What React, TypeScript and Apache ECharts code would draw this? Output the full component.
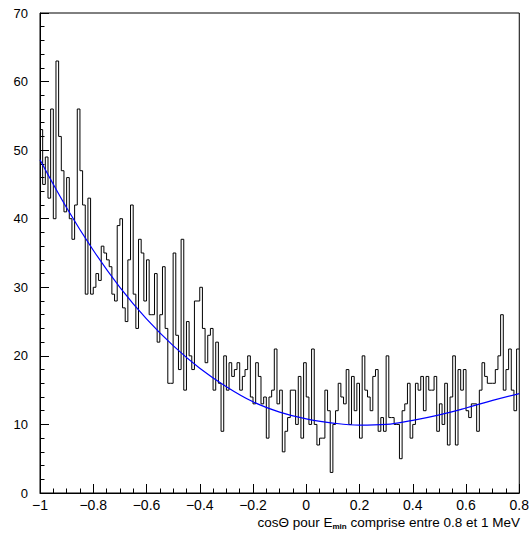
import React, { useEffect, useRef } from "react";
import * as echarts from "echarts";

// Histogram: 180 bins of width 0.01 from cosΘ = -1 to 0.8
const binStart = -1;
const binWidth = 0.01;
const counts = [
  53, 45, 49, 43, 56, 40, 63, 52, 47, 41,
  46, 40, 37, 42, 56, 47, 42, 29, 43, 29,
  30, 32, 31, 36, 35, 34, 33, 29, 28, 39,
  40, 27, 25, 34, 42, 29, 24, 37, 35, 28,
  34, 26, 26, 32, 22, 26, 33, 24, 16, 16,
  35, 23, 18, 37, 15, 25, 20, 18, 28, 28,
  30, 24, 19, 23, 24, 15, 22, 16, 9, 20,
  15, 19, 17, 18, 19, 15, 17, 18, 20, 14,
  13, 19, 17, 13, 14, 8, 14, 15, 21, 13,
  15, 6, 9, 11, 15, 15, 10, 17, 8, 19,
  14, 10, 21, 10, 7, 8, 8, 15, 12, 3,
  10, 12, 16, 14, 13, 18, 10, 17, 12, 16,
  8, 20, 15, 14, 12, 17, 18, 9, 11, 9,
  20, 11, 11, 10, 10, 5, 12, 13, 16, 8,
  10, 16, 15, 17, 12, 17, 15, 15, 17, 9,
  13, 10, 16, 7, 14, 20, 7, 18, 15, 18,
  12, 11, 13, 13, 9, 15, 19, 17, 16, 16,
  16, 18, 20, 26, 15, 18, 21, 15, 12, 21,
];

// Fit curve
const fitX = [-1, -0.9, -0.8, -0.7, -0.6, -0.5, -0.4, -0.3, -0.2, -0.1, 0, 0.1, 0.2, 0.3, 0.4, 0.5, 0.6, 0.7, 0.8];
const fitY = [48.6, 41.6, 35.4, 30.0, 25.4, 21.5, 18.2, 15.5, 13.3, 11.8, 10.8, 10.2, 9.9, 10.0, 10.6, 11.4, 12.4, 13.5, 14.5];

const xMin = -1;
const xMax = 0.8;
const xStep = 0.2;
const yMin = 0;
const yMax = 70;
const yStep = 10;

const axisTitle = "cosΘ pour E{sub|min} comprise entre 0.8 et 1 MeV";

export default function App() {
  const ref = useRef<HTMLDivElement>(null);

  useEffect(() => {
    if (!ref.current) return;
    const chart = echarts.init(ref.current, undefined, { renderer: "svg" });

    const histPoints: number[][] = counts.map((c, i) => [
      Math.round((binStart + i * binWidth) * 1000) / 1000,
      c,
    ]);
    histPoints.push([
      Math.round((binStart + counts.length * binWidth) * 1000) / 1000,
      counts[counts.length - 1],
    ]);

    const fmtX = (v: number) => {
      const r = Number(v.toFixed(2));
      if (r === 0) return "0";
      return (r < 0 ? "\u2212" : "") + String(Math.abs(r));
    };

    const font = "Liberation Sans";

    chart.setOption({
      animation: false,
      backgroundColor: "#ffffff",
      grid: {
        left: 40,
        right: 10,
        top: 13,
        bottom: 40,
        show: true,
        borderColor: "#000",
        borderWidth: 1,
        backgroundColor: "transparent",
      },
      xAxis: {
        type: "value",
        min: xMin,
        max: xMax,
        interval: xStep,
        axisLine: { show: true, onZero: false, lineStyle: { color: "#000", width: 1 } },
        axisTick: { show: true, inside: true, length: 9, lineStyle: { color: "#000", width: 1 } },
        minorTick: { show: true, splitNumber: 4, length: 4.5, lineStyle: { color: "#000", width: 1 } },
        splitLine: { show: false },
        minorSplitLine: { show: false },
        axisLabel: {
          color: "#000",
          fontSize: 14,
          fontFamily: font,
          margin: 5,
          formatter: fmtX,
        },
      },
      yAxis: {
        type: "value",
        min: yMin,
        max: yMax,
        interval: yStep,
        axisLine: { show: true, onZero: false, lineStyle: { color: "#000", width: 1 } },
        axisTick: { show: true, inside: true, length: 9, lineStyle: { color: "#000", width: 1 } },
        minorTick: { show: true, splitNumber: 5, length: 4.5, lineStyle: { color: "#000", width: 1 } },
        splitLine: { show: false },
        minorSplitLine: { show: false },
        axisLabel: {
          color: "#000",
          fontSize: 13,
          fontFamily: font,
          margin: 12,
        },
      },
      series: [
        {
          type: "line",
          step: "end",
          data: histPoints,
          showSymbol: false,
          silent: true,
          lineStyle: { color: "#000", width: 1 },
          z: 2,
        },
        {
          type: "line",
          data: fitX.map((x, i) => [x, fitY[i]]),
          smooth: 0.4,
          showSymbol: false,
          silent: true,
          lineStyle: { color: "#0000ff", width: 1.2 },
          z: 3,
        },
      ],
      graphic: [
        {
          type: "text",
          right: 12,
          top: 514,
          style: {
            text: axisTitle,
            fill: "#000",
            font: `13.5px "${font}"`,
            lineHeight: 16,
            rich: {
              sub: {
                fontSize: 8,
                fontWeight: "bold",
                fontFamily: font,
                verticalAlign: "bottom",
                lineHeight: 6,
                fill: "#000",
              },
            },
          },
        },
      ],
    });

    return () => {
      chart.dispose();
    };
  }, []);

  return (
    <div
      ref={ref}
      style={{
        position: "fixed",
        left: 0,
        top: 0,
        width: 532,
        height: 533,
        background: "#fff",
      }}
    />
  );
}
